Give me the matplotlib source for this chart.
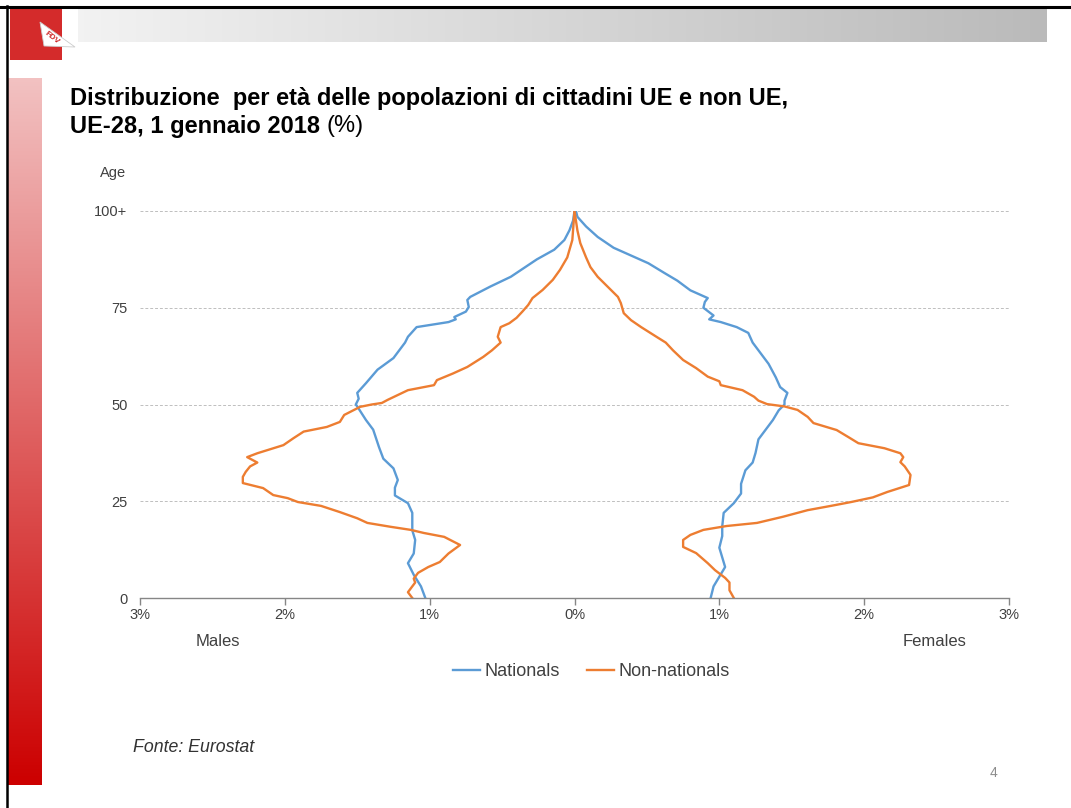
import numpy as np
import matplotlib
matplotlib.use("Agg")
import matplotlib.pyplot as plt
from matplotlib.patches import Rectangle, Polygon

plt.rcParams["font.family"] = ["Liberation Sans", "DejaVu Sans"]

# Share of population by single year of age (%), EU-28, 1 January 2018
age_m_nat = [0, 3, 6, 9, 11.5, 15, 17.5, 22, 24.5, 26.5, 28.5, 30.5, 33.5, 36, 39,
             43.5, 46, 49.5, 50, 51.5, 53, 55.5, 59, 62, 66, 67.5, 70, 71.3, 72,
             72.6, 74, 75.2, 77, 77.8, 80.5, 83, 85, 87.5, 90, 92.5, 95, 97.5, 100]
males_nat = [1.03, 1.06, 1.11, 1.15, 1.11, 1.10, 1.12, 1.12, 1.15, 1.24, 1.24, 1.22,
             1.25, 1.32, 1.35, 1.39, 1.44, 1.50, 1.51, 1.49, 1.50, 1.44, 1.36, 1.25,
             1.17, 1.15, 1.09, 0.87, 0.82, 0.83, 0.75, 0.73, 0.74, 0.72, 0.58, 0.44,
             0.36, 0.26, 0.14, 0.07, 0.035, 0.01, 0.0]

age_m_non = [0, 1.5, 3, 4, 5, 6.5, 8, 9.3, 11.5, 13.7, 15.8, 16.8, 17.6, 18.4, 19.4,
             20.6, 22.2, 23.8, 24.8, 25.8, 26.6, 28.4, 29.7, 31.3, 32.6, 34, 35,
             36.4, 37.4, 39.5, 41.3, 43, 44.2, 45.5, 47.3, 49.4, 50, 50.4, 51.2,
             53.7, 55, 56.3, 58, 59.7, 62.3, 64, 66, 67.5, 70, 71, 72.4, 74, 75.7,
             77.5, 79.6, 82.2, 84.8, 88, 92.5, 100]
males_non = [1.12, 1.15, 1.12, 1.10, 1.11, 1.08, 1.01, 0.93, 0.87, 0.79, 0.90, 1.04,
             1.13, 1.27, 1.43, 1.50, 1.62, 1.75, 1.91, 1.98, 2.08, 2.15, 2.29, 2.29,
             2.27, 2.24, 2.19, 2.26, 2.19, 2.01, 1.94, 1.87, 1.71, 1.62, 1.59, 1.48,
             1.40, 1.33, 1.29, 1.15, 0.97, 0.95, 0.84, 0.74, 0.63, 0.57, 0.51, 0.53,
             0.51, 0.45, 0.40, 0.36, 0.32, 0.29, 0.22, 0.15, 0.10, 0.05, 0.015, 0.0]

age_f_nat = [0, 3, 5.5, 8, 10.5, 13, 16, 18.5, 22, 24.5, 27, 29.5, 33, 35, 37.5, 41,
             43.5, 46, 48.5, 50, 51, 53, 54.5, 57, 60.5, 63.5, 66, 68.5, 70, 71.3,
             72, 73, 75, 76.5, 77.5, 79.5, 82, 84, 86.5, 88.5, 90.5, 93.3, 96, 98.5,
             100]
females_nat = [0.94, 0.96, 1.00, 1.04, 1.02, 1.00, 1.02, 1.02, 1.03, 1.10, 1.15, 1.15,
               1.18, 1.23, 1.25, 1.27, 1.32, 1.37, 1.41, 1.45, 1.45, 1.47, 1.42, 1.39,
               1.34, 1.28, 1.23, 1.20, 1.12, 1.01, 0.93, 0.96, 0.89, 0.90, 0.92, 0.80,
               0.71, 0.62, 0.51, 0.39, 0.27, 0.16, 0.08, 0.02, 0.01]

age_f_non = [0, 2, 4, 5.2, 7.2, 9, 11.6, 13.2, 15, 16.3, 17.6, 18.6, 19.4, 21, 22.7,
             23.8, 24.8, 26, 27.4, 29.2, 31.8, 34, 35.1, 36.4, 37.4, 38.7, 40, 41.6,
             43.4, 45.2, 46.8, 48.6, 49.5, 50.1, 51, 52, 53.7, 55, 56, 57.2, 59.4,
             61.5, 64, 66, 67.4, 70, 71.8, 73.6, 76.2, 77.8, 80.4, 83, 85.5, 88,
             91.7, 95, 100]
females_non = [1.10, 1.07, 1.07, 1.04, 0.97, 0.92, 0.84, 0.75, 0.75, 0.80, 0.89, 1.05,
               1.26, 1.44, 1.61, 1.77, 1.91, 2.06, 2.16, 2.31, 2.32, 2.28, 2.25, 2.27,
               2.25, 2.14, 1.96, 1.89, 1.81, 1.65, 1.61, 1.54, 1.45, 1.33, 1.27, 1.24,
               1.16, 1.01, 1.00, 0.92, 0.84, 0.75, 0.68, 0.63, 0.57, 0.46, 0.39, 0.34,
               0.32, 0.30, 0.23, 0.16, 0.11, 0.08, 0.04, 0.02, 0.0]

x_ticks = [-3, -2, -1, 0, 1, 2, 3]
x_labels = ["3%", "2%", "1%", "0%", "1%", "2%", "3%"]
y_ticks = [0, 25, 50, 75, 100]
y_labels = ["0", "25", "50", "75", "100+"]

blue = "#5B9BD5"
orange = "#ED7D31"
W, H = 1071, 808

fig = plt.figure(figsize=(W / 100, H / 100), dpi=100)

# slide decorations in pixel coordinates
deco = fig.add_axes([0, 0, 1, 1], zorder=0)
deco.set_xlim(0, W)
deco.set_ylim(H, 0)
deco.axis("off")

grey_grad = np.linspace(0.95, 0.73, 256).reshape(1, -1)
deco.imshow(np.dstack([grey_grad] * 3), extent=(78, 1047, 42, 8),
            aspect="auto", interpolation="bicubic")

t = np.linspace(0, 1, 256).reshape(-1, 1)
top_c = np.array([0.95, 0.76, 0.76])
bot_c = np.array([0.80, 0.0, 0.0])
red_grad = (1 - t)[..., None] * top_c + t[..., None] * bot_c
deco.imshow(red_grad.reshape(256, 1, 3), extent=(8, 42, 785, 78),
            aspect="auto", interpolation="bicubic")

deco.add_patch(Rectangle((10, 8), 52, 52, color="#D42B2B", lw=0))
deco.add_patch(Polygon([(40, 22), (75, 47), (44, 46)], closed=True,
                       facecolor="white", edgecolor="#cccccc", lw=0.6))
deco.text(52, 38, "FDV", fontsize=6, color="#cc2222", rotation=-38,
          ha="center", va="center", fontweight="bold")

deco.plot([0, W], [6.5, 6.5], color="black", lw=2.2)
deco.plot([7, 7], [6, H], color="black", lw=1.8)

# pyramid
ax = fig.add_axes([140 / W, 1 - 598 / H, 869 / W, 387 / H], zorder=1)
ax.patch.set_alpha(0)
ax.plot(-np.array(males_nat), age_m_nat, color=blue, lw=1.7, label="Nationals")
ax.plot(-np.array(males_non), age_m_non, color=orange, lw=1.7, label="Non-nationals")
ax.plot(females_nat, age_f_nat, color=blue, lw=1.7)
ax.plot(females_non, age_f_non, color=orange, lw=1.7)

ax.set_xlim(-3, 3)
ax.set_ylim(0, 100)
ax.set_xticks(x_ticks)
ax.set_xticklabels(x_labels)
ax.set_yticks(y_ticks)
ax.set_yticklabels(y_labels)
for v in y_ticks[1:]:
    ax.axhline(v, color="#bfbfbf", lw=0.7, ls=(0, (3, 2)), zorder=0)
for s in ["top", "right", "left"]:
    ax.spines[s].set_visible(False)
ax.spines["bottom"].set_color("#868686")
ax.spines["bottom"].set_linewidth(1.0)
ax.tick_params(axis="x", colors="#868686", labelcolor="#404040",
               labelsize=10.5, length=5, width=1.0, direction="out", pad=2)
ax.tick_params(axis="y", length=0, labelsize=10.5, labelcolor="#404040", pad=9)

fig.text(113 / W, 1 - 173 / H, "Age", fontsize=10.5, color="#404040",
         ha="center", va="center")
fig.text(218 / W, 1 - 641 / H, "Males", fontsize=12, color="#404040",
         ha="center", va="center")
fig.text(935 / W, 1 - 641 / H, "Females", fontsize=12, color="#404040",
         ha="center", va="center")

fig.legend(loc="center", bbox_to_anchor=(591 / W, 1 - 672 / H), ncol=2,
           frameon=False, fontsize=13, handlelength=1.5, handletextpad=0.25,
           columnspacing=1.5, labelcolor="#404040")

# title, with the unit in regular weight
t1 = fig.text(70 / W, 1 - 98 / H,
              "Distribuzione  per età delle popolazioni di cittadini UE e non UE,",
              fontsize=17, fontweight="bold", ha="left", va="center")
t2 = fig.text(70 / W, 1 - 126 / H, "UE-28, 1 gennaio 2018 ",
              fontsize=17, fontweight="bold", ha="left", va="center")
fig.canvas.draw()
bb = t2.get_window_extent()
fig.text(bb.x1 / W, 1 - 126 / H, "(%)", fontsize=17, ha="left", va="center")

fig.text(133 / W, 1 - 748 / H, "Fonte: Eurostat", fontsize=12.8, style="italic",
         color="#333333", ha="left", va="center")
fig.text(993 / W, 1 - 773 / H, "4", fontsize=10, color="#8c8c8c",
         ha="center", va="center")

fig.savefig("out.png", dpi=100)
